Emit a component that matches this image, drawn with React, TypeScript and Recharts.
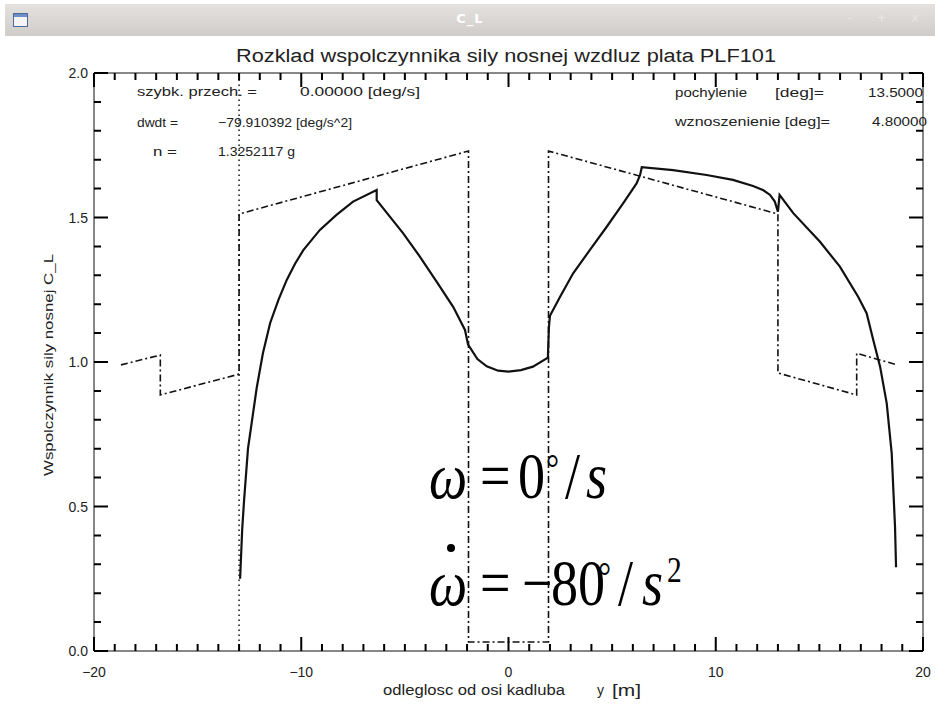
import { LineChart, Line, XAxis, YAxis, ReferenceLine } from "recharts"

// spanwise positions [m] and lift coefficient of the reference (dash-dot) distribution
const refSpan = [-18.7, -16.8, -16.8, -13, -13, -1.93, -1.93, 1.93, 1.93, 13, 13, 16.8, 16.8, 18.75]
const refCl = [0.99, 1.024, 0.886, 0.958, 1.512, 1.73, 0.031, 0.031, 1.73, 1.512, 0.962, 0.886, 1.03, 0.99]

// computed distribution (solid)
const wingSpan = [
  -12.95, -12.85, -12.76, -12.57, -12.35, -12.15, -11.85, -11.5, -11.1, -10.7, -10.3, -9.9, -9.1, -8.3, -7.5,
  -6.36, -6.36, -5.09, -4.27, -3.47, -2.67, -2.1, -1.95, -1.5, -1.05, -0.5, 0, 0.6, 1.18, 1.9, 1.95, 2.0,
  2.49, 3.12, 3.93, 4.74, 5.53, 6.18, 6.35, 6.43, 7.94, 9.56, 10.83, 11.8, 12.3, 12.62, 12.85, 13.0, 13.08,
  13.74, 15.03, 15.99, 16.87, 17.28, 17.6, 17.93, 18.25, 18.49, 18.65, 18.7,
]
const wingCl = [
  0.25, 0.42, 0.52, 0.7, 0.81, 0.91, 1.03, 1.135, 1.215, 1.284, 1.34, 1.387, 1.457, 1.509, 1.555,
  1.595, 1.56, 1.446, 1.364, 1.278, 1.191, 1.111, 1.06, 1.01, 0.985, 0.97, 0.967, 0.972, 0.984, 1.015, 1.12, 1.16,
  1.226, 1.307, 1.388, 1.468, 1.549, 1.618, 1.647, 1.674, 1.664, 1.647, 1.63, 1.609, 1.594, 1.578, 1.555, 1.52, 1.578,
  1.515, 1.416, 1.33, 1.226, 1.169, 1.076, 0.984, 0.857, 0.684, 0.43, 0.29,
]

const fuselageEdge = -13

const xTicks = [
  -20, -19, -18, -17, -16, -15, -14, -13, -12, -11, -10, -9, -8, -7, -6, -5, -4, -3, -2, -1, 0,
  1, 2, 3, 4, 5, 6, 7, 8, 9, 10, 11, 12, 13, 14, 15, 16, 17, 18, 19, 20,
]
const xLabelTicks = [-20, -10, 0, 10, 20]
const yTicks = [
  0, 0.1, 0.2, 0.3, 0.4, 0.5, 0.6, 0.7, 0.8, 0.9, 1.0, 1.1, 1.2, 1.3, 1.4, 1.5, 1.6, 1.7, 1.8, 1.9, 2.0,
]
const yLabelTicks = [0, 0.5, 1.0, 1.5, 2.0]

const refData = refSpan.map((x, i) => ({ x, v: refCl[i] }))
const wingData = wingSpan.map((x, i) => ({ x, v: wingCl[i] }))

const ink = "#111"
const axisFont = "'Liberation Sans', Arial, sans-serif"
const mathFont = "'Liberation Serif', 'Times New Roman', serif"

// plot box set by the chart margins + axis sizes below
const box = { left: 94, top: 73, width: 829, height: 578 }
const xDomain = [-20, 20]
const yDomain = [0, 2]
const majorLen = 14
const minorLen = 7

const isMajorX = (v: number) => xLabelTicks.includes(v)
const isMajorY = (v: number) => yLabelTicks.some((t) => Math.abs(t - v) < 1e-6)
const tickX = (v: number) => box.left + ((v - xDomain[0]) / (xDomain[1] - xDomain[0])) * box.width
const tickY = (v: number) => box.top + ((yDomain[1] - v) / (yDomain[1] - yDomain[0])) * box.height

function BottomLabel(props: any) {
  const { x, y, payload } = props
  if (!isMajorX(payload.value)) return <g />
  const label = payload.value < 0 ? `\u2212${Math.abs(payload.value)}` : `${payload.value}`
  return (
    <text x={x} y={y + 26} textAnchor="middle" fontSize={14} fontFamily={axisFont} fill="#222">
      {label}
    </text>
  )
}

function LeftLabel(props: any) {
  const { x, y, payload } = props
  if (!isMajorY(payload.value)) return <g />
  return (
    <text x={x - 6} y={y + 5} textAnchor="end" fontSize={14} fontFamily={axisFont} fill="#222">
      {payload.value.toFixed(1)}
    </text>
  )
}

// inward tick marks on all four sides of the box
function BoxTicks() {
  const right = box.left + box.width
  const bottom = box.top + box.height
  const marks: string[] = []
  xTicks.forEach((t) => {
    const len = isMajorX(t) ? majorLen : minorLen
    const px = tickX(t)
    marks.push(`M${px},${bottom}v${-len}`, `M${px},${box.top}v${len}`)
  })
  yTicks.forEach((t) => {
    const len = isMajorY(t) ? majorLen : minorLen
    const py = tickY(t)
    marks.push(`M${box.left},${py}h${len}`, `M${right},${py}h${-len}`)
  })
  return <path d={marks.join(" ")} fill="none" stroke="#000" strokeWidth={2} />
}

function Txt({ x, y, len, size = 12.5, children }: { x: number; y: number; len?: number; size?: number; children: any }) {
  return (
    <text
      x={x}
      y={y}
      fontSize={size}
      fontFamily={axisFont}
      fill="#222"
      textLength={len}
      lengthAdjust={len ? "spacingAndGlyphs" : undefined}
    >
      {children}
    </text>
  )
}

// Times glyphs, squeezed horizontally
function Glyph({ x, y, size = 66, italic = false, children }: { x: number; y: number; size?: number; italic?: boolean; children: any }) {
  return (
    <text
      transform={`translate(${x},${y}) scale(0.82,1)`}
      fontSize={size}
      fontFamily={mathFont}
      fontStyle={italic ? "italic" : "normal"}
      fill="#000"
    >
      {children}
    </text>
  )
}

function TitleBar() {
  return (
    <div
      style={{
        position: "absolute",
        left: 5,
        top: 4,
        width: 930,
        height: 32,
        background: "linear-gradient(#e4e2e0, #cfccc9)",
        fontFamily: "'DejaVu Sans', sans-serif",
      }}
    >
      <div
        style={{
          position: "absolute",
          left: 8,
          top: 9,
          width: 13,
          height: 12,
          border: "1px solid #4a6a9a",
          background: "linear-gradient(#6d8fc4 0 3px, #f4f4f4 3px)",
        }}
      />
      <div
        style={{
          position: "absolute",
          left: 0,
          right: 0,
          top: 7,
          textAlign: "center",
          color: "#fff",
          fontWeight: "bold",
          fontSize: 13,
          letterSpacing: 1,
        }}
      >
        C_L
      </div>
      <div style={{ position: "absolute", right: 6, top: 6, color: "#e8e6e4", fontSize: 13, letterSpacing: 10 }}>
        - + x
      </div>
    </div>
  )
}

export default function App() {
  return (
    <div style={{ position: "fixed", left: 0, top: 0, width: 935, height: 705, background: "#fff", overflow: "hidden" }}>
      <div style={{ position: "absolute", left: 0, top: 0 }}>
        {/* plot box: left 94, right 923, top 73, bottom 651 */}
        <LineChart width={935} height={705} margin={{ top: 63, right: 2, bottom: 24, left: 54 }}>
          <XAxis
            dataKey="x"
            type="number"
            domain={xDomain}
            ticks={xTicks}
            interval={0}
            height={30}
            tickSize={0}
            tickMargin={0}
            tickLine={false}
            tick={BottomLabel}
            axisLine={{ stroke: ink }}
            allowDataOverflow
          />
          <XAxis
            xAxisId="top"
            orientation="top"
            dataKey="x"
            type="number"
            domain={xDomain}
            ticks={xTicks}
            height={10}
            tick={false}
            tickLine={false}
            axisLine={{ stroke: ink }}
            allowDataOverflow
          />
          <YAxis
            type="number"
            domain={yDomain}
            ticks={yTicks}
            interval={0}
            width={40}
            tickSize={0}
            tickMargin={0}
            tickLine={false}
            tick={LeftLabel}
            axisLine={{ stroke: ink }}
            allowDataOverflow
          />
          <YAxis
            yAxisId="right"
            orientation="right"
            type="number"
            domain={yDomain}
            ticks={yTicks}
            width={10}
            tick={false}
            tickLine={false}
            axisLine={{ stroke: ink }}
            allowDataOverflow
          />
          <ReferenceLine x={fuselageEdge} stroke={ink} strokeWidth={1.5} strokeDasharray="1.5 3.5" />
          <Line
            data={refData}
            dataKey="v"
            type="linear"
            stroke={ink}
            strokeWidth={1.6}
            strokeDasharray="7 3 2 3"
            dot={false}
            isAnimationActive={false}
          />
          <Line
            data={wingData}
            dataKey="v"
            type="linear"
            stroke={ink}
            strokeWidth={2.2}
            dot={false}
            isAnimationActive={false}
          />
        </LineChart>
      </div>

      <svg width={935} height={705} style={{ position: "absolute", left: 0, top: 0, pointerEvents: "none" }}>
        <BoxTicks />

        <Txt x={236} y={62} len={540} size={18}>
          Rozklad wspolczynnika sily nosnej wzdluz plata PLF101
        </Txt>

        <Txt x={137} y={96} len={120}>szybk. przech. =</Txt>
        <Txt x={300} y={96} len={120}>0.00000 [deg/s]</Txt>
        <Txt x={137} y={127} len={41}>dwdt =</Txt>
        <Txt x={218} y={127} len={134}>{"\u221279.910392 [deg/s^2]"}</Txt>
        <Txt x={153} y={156} len={24}>n =</Txt>
        <Txt x={218} y={156} len={77}>1.3252117 g</Txt>

        <Txt x={675} y={97} len={72}>pochylenie</Txt>
        <Txt x={775} y={97} len={49}>[deg]=</Txt>
        <Txt x={868} y={97} len={55}>13.5000</Txt>
        <Txt x={675} y={126} len={155}>wznoszenienie [deg]=</Txt>
        <Txt x={872} y={126} len={55}>4.80000</Txt>

        <Txt x={383} y={695} len={182} size={14}>odleglosc od osi kadluba</Txt>
        <Txt x={597} y={695} size={14}>y</Txt>
        <Txt x={612} y={696} len={29} size={17}>[m]</Txt>

        <text
          transform="translate(53,365) rotate(-90)"
          textAnchor="middle"
          fontSize={13.5}
          fontFamily={axisFont}
          fill="#222"
          textLength={222}
          lengthAdjust="spacingAndGlyphs"
        >
          Wspolczynnik sily nosnej C_L
        </text>

        <Glyph x={429} y={498} italic>ω</Glyph>
        <Glyph x={480} y={498}>=</Glyph>
        <Glyph x={518} y={498}>0</Glyph>
        <Glyph x={546} y={482} size={40}>°</Glyph>
        <Glyph x={565} y={498}>/</Glyph>
        <Glyph x={586} y={498} italic>s</Glyph>

        <circle cx={451} cy={548} r={4} fill="#000" />
        <Glyph x={429} y={605} italic>ω</Glyph>
        <Glyph x={480} y={605}>=</Glyph>
        <Glyph x={522} y={605}>{"\u2212"}</Glyph>
        <Glyph x={551} y={605}>80</Glyph>
        <Glyph x={598} y={590} size={40}>°</Glyph>
        <Glyph x={618} y={605}>/</Glyph>
        <Glyph x={642} y={605} italic>s</Glyph>
        <Glyph x={667} y={582} size={36}>2</Glyph>
      </svg>

      <TitleBar />
    </div>
  )
}
